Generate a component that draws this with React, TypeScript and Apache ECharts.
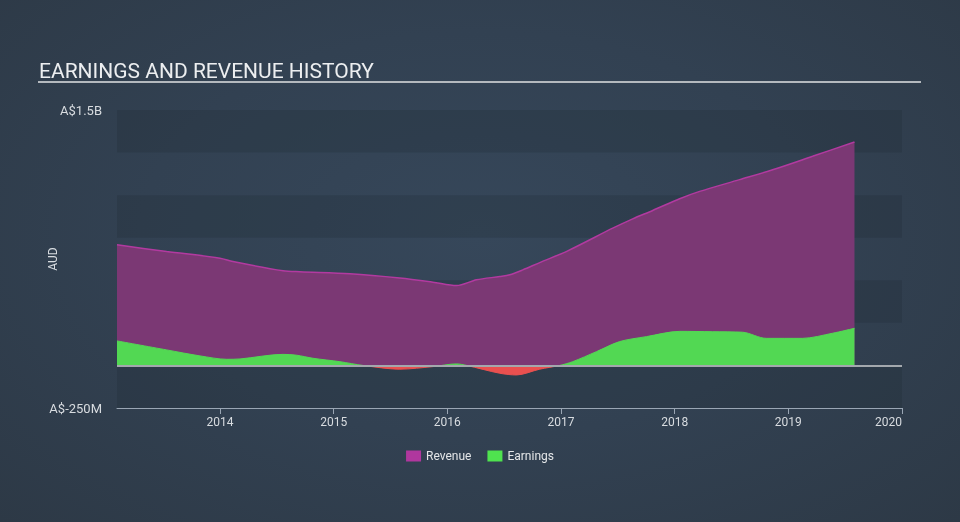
import React, { useEffect, useRef } from "react";
import * as echarts from "echarts";

// Decimal years and values in millions of AUD
const revenueYears = [2013.094, 2013.531, 2014.0, 2014.114, 2014.554, 2014.703, 2015.143, 2015.582, 2015.873, 2016.081, 2016.257, 2016.462, 2016.549, 2016.664, 2016.813, 2017.059, 2017.455, 2017.631, 2017.807, 2018.044, 2018.22, 2018.571, 2018.862, 2019.213, 2019.582];
const revenueValues = [708, 669, 630, 610, 556, 550, 538, 513, 489, 469, 503, 522, 532, 561, 604, 673, 806, 861, 910, 979, 1022, 1091, 1149, 1228, 1312];

const earningsYears = [2013.094, 2013.531, 2013.824, 2014.059, 2014.176, 2014.554, 2014.674, 2014.818, 2015.055, 2015.257, 2015.582, 2015.873, 2016.081, 2016.169, 2016.462, 2016.608, 2016.813, 2016.989, 2017.103, 2017.312, 2017.516, 2017.751, 2018.044, 2018.334, 2018.598, 2018.806, 2019.125, 2019.389, 2019.582];
const earningsValues = [144, 91, 56, 36, 38, 65, 60, 42, 22, 0, -22, -7, 9, 0, -46, -56, -22, 0, 22, 81, 140, 169, 200, 198, 195, 159, 159, 189, 218];

const yearTicks = [2014, 2015, 2016, 2017, 2018, 2019, 2020];
const yMin = -250;
const yMax = 1500;
const yStep = 250;

const revenueData = revenueYears.map((y, i) => [y, revenueValues[i]]);
const earningsData = earningsYears.map((y, i) => [y, earningsValues[i]]);

const FONT = "Roboto, 'Noto Sans', sans-serif";

export default function App() {
  const ref = useRef<HTMLDivElement>(null);
  useEffect(() => {
    if (!ref.current) return;
    const chart = echarts.init(ref.current, null, { renderer: "svg" });
    chart.setOption({
      animation: false,
      backgroundColor: "transparent",
      textStyle: { fontFamily: FONT },
      title: {
        text: "EARNINGS AND REVENUE HISTORY",
        left: 34,
        top: 55,
        textStyle: { color: "#eceef0", fontSize: 21, fontWeight: "normal", fontFamily: FONT },
      },
      graphic: [
        {
          type: "line",
          shape: { x1: 38, y1: 82, x2: 921, y2: 82 },
          style: { stroke: "#b4b9be", lineWidth: 2 },
        },
      ],
      legend: {
        bottom: 55,
        left: "center",
        itemWidth: 15,
        itemHeight: 11,
        itemGap: 16,
        icon: "rect",
        textStyle: { color: "#e4e6e8", fontSize: 12, fontFamily: FONT },
        data: [
          { name: "Revenue", itemStyle: { color: "#b0379e" } },
          { name: "Earnings", itemStyle: { color: "#4fe34f" } },
        ],
      },
      grid: { left: 117, right: 58, top: 110, bottom: 114 },
      xAxis: {
        type: "value",
        min: 2013.094,
        max: 2020,
        axisLine: { onZero: false, lineStyle: { color: "#9aa6b4", width: 1 } },
        axisTick: { show: true, customValues: yearTicks, length: 6, lineStyle: { color: "#9aa6b4" } },
        axisLabel: {
          customValues: yearTicks,
          color: "#d8dce0",
          fontSize: 12,
          margin: 8,
          alignMaxLabel: "right",
          formatter: (v: number) => String(Math.round(v)),
        },
        splitLine: { show: false },
      },
      yAxis: {
        type: "value",
        min: yMin,
        max: yMax,
        interval: yStep,
        name: "AUD",
        nameLocation: "middle",
        nameGap: 58,
        nameMoveOverlap: false,
        nameTextStyle: { color: "#d8dce0", fontSize: 12, fontFamily: FONT },
        axisLine: { show: false },
        axisTick: { show: false },
        axisLabel: {
          color: "#d8dce0",
          fontSize: 13,
          margin: 15,
          formatter: (v: number) => (v === yMax ? "A$1.5B" : v === yMin ? "A$-250M" : ""),
        },
        splitLine: { show: false },
        splitArea: { show: true, areaStyle: { color: ["rgba(30,40,52,0.24)", "rgba(0,0,0,0)"] } },
      },
      visualMap: {
        show: false,
        seriesIndex: 1,
        dimension: 1,
        pieces: [
          { gt: -100000, lt: 0, color: "#e9504f" },
          { gte: 0, lte: 100000, color: "#52d853" },
        ],
      },
      series: [
        {
          name: "Revenue",
          type: "line",
          data: revenueData,
          smooth: 0.3,
          showSymbol: false,
          color: "#b0379e",
          lineStyle: { color: "#b23aa0", width: 1.5 },
          areaStyle: { color: "#7b3874", opacity: 1 },
          z: 2,
        },
        {
          name: "Earnings",
          type: "line",
          data: earningsData,
          smooth: 0.3,
          showSymbol: false,
          color: "#4fe34f",
          lineStyle: { width: 1 },
          areaStyle: { opacity: 1 },
          z: 3,
          markLine: {
            silent: true,
            symbol: "none",
            label: { show: false },
            lineStyle: { color: "#a3a8ad", width: 2, type: "solid" },
            data: [{ yAxis: 0 }],
          },
        },
      ],
    });
    return () => chart.dispose();
  }, []);
  return (
    <div
      style={{
        position: "fixed",
        left: 0,
        top: 0,
        width: 960,
        height: 522,
        background: "radial-gradient(ellipse at 50% 45%, #36475a 0%, #324152 50%, #2d3946 100%)",
      }}
    >
      <div ref={ref} style={{ width: 960, height: 522 }} />
    </div>
  );
}
